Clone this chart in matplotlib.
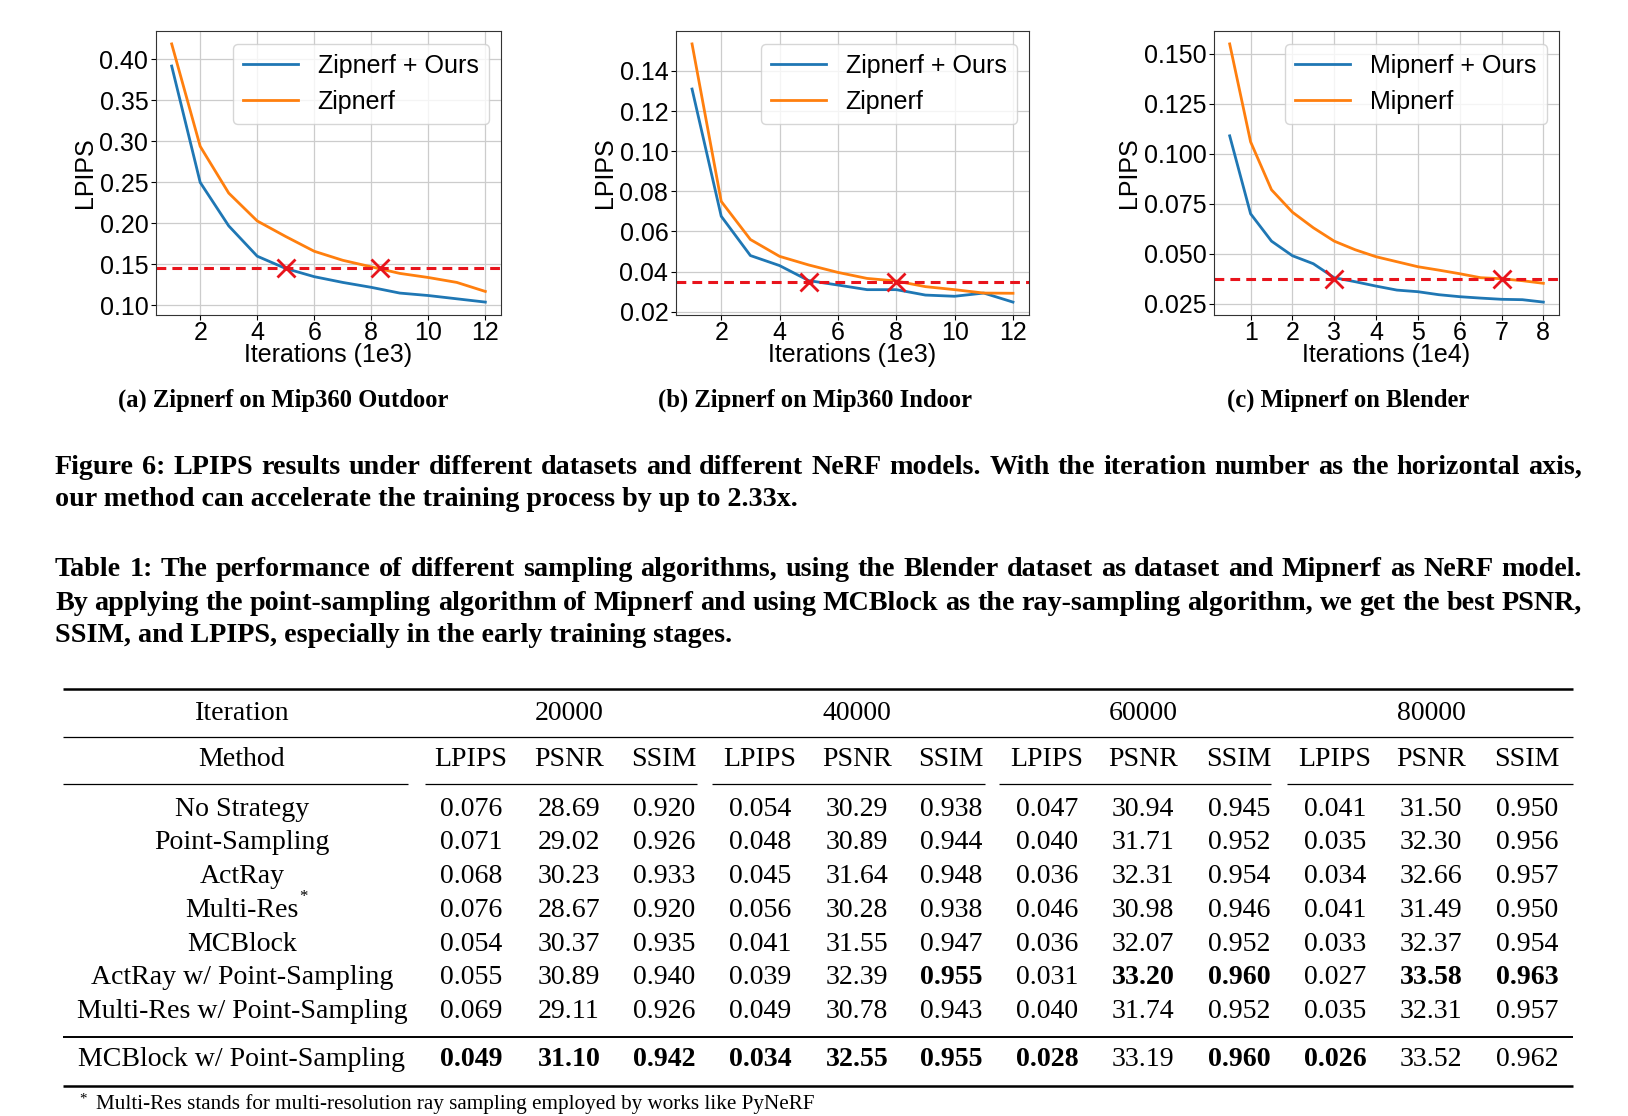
import numpy as np, matplotlib; matplotlib.use('Agg')
import matplotlib.pyplot as plt
from matplotlib.ticker import MultipleLocator

W,H=1628,1116

# ---- curve data ----
it_a=[1,2,3,4,5,6,7,8,9,10,11,12]
ours_a=[0.392,0.250,0.197,0.160,0.145,0.135,0.128,0.122,0.115,0.112,0.108,0.104]
base_a=[0.419,0.294,0.237,0.203,0.184,0.166,0.155,0.147,0.139,0.134,0.128,0.117]
thr_a=0.145; hit_a=[5,8.3]

it_b=[1,2,3,4,5,6,7,8,9,10,11,12]
ours_b=[0.131,0.0676,0.048,0.043,0.0355,0.0333,0.031,0.031,0.0283,0.0277,0.0293,0.0248]
base_b=[0.1535,0.075,0.056,0.0476,0.0433,0.0396,0.0366,0.0353,0.0325,0.031,0.0293,0.0292]
thr_b=0.035; hit_b=[5,8]

it_c=[0.5,1,1.5,2,2.5,3,3.5,4,4.5,5,5.5,6,6.5,7,7.5,8]
ours_c=[0.109,0.070,0.0563,0.049,0.045,0.038,0.036,0.0338,0.0318,0.031,0.0295,0.0285,0.0278,0.0272,0.027,0.0258]
base_c=[0.155,0.106,0.082,0.0708,0.063,0.0563,0.052,0.0485,0.046,0.0435,0.0418,0.040,0.038,0.0375,0.0365,0.0352]
thr_c=0.0375; hit_c=[3,7]

# ---- table data ----
iterations=[20000,40000,60000,80000]
metrics=['LPIPS','PSNR','SSIM']
methods=['No Strategy','Point-Sampling','ActRay','Multi-Res','MCBlock',
         'ActRay w/ Point-Sampling','Multi-Res w/ Point-Sampling','MCBlock w/ Point-Sampling']
lpips=[[0.076,0.054,0.047,0.041],[0.071,0.048,0.040,0.035],[0.068,0.045,0.036,0.034],
       [0.076,0.056,0.046,0.041],[0.054,0.041,0.036,0.033],[0.055,0.039,0.031,0.027],
       [0.069,0.049,0.040,0.035],[0.049,0.034,0.028,0.026]]
psnr=[[28.69,30.29,30.94,31.50],[29.02,30.89,31.71,32.30],[30.23,31.64,32.31,32.66],
      [28.67,30.28,30.98,31.49],[30.37,31.55,32.07,32.37],[30.89,32.39,33.20,33.58],
      [29.11,30.78,31.74,32.31],[31.10,32.55,33.19,33.52]]
ssim=[[0.920,0.938,0.945,0.950],[0.926,0.944,0.952,0.956],[0.933,0.948,0.954,0.957],
      [0.920,0.938,0.946,0.950],[0.935,0.947,0.952,0.954],[0.940,0.955,0.960,0.963],
      [0.926,0.943,0.952,0.957],[0.942,0.955,0.960,0.962]]
# (row, iteration index, metric index) printed in bold
bold={(5,1,2),(5,2,1),(5,2,2),(5,3,1),(5,3,2),
      (7,0,0),(7,0,1),(7,0,2),(7,1,0),(7,1,1),(7,1,2),(7,2,0),(7,2,2),(7,3,0)}

fig=plt.figure(figsize=(W/100,H/100),dpi=100)
SANS='Liberation Sans'; SERIF='Liberation Serif'
FS=18

def px_axes(l,r,t,b):
    return fig.add_axes([l/W,1-b/H,(r-l)/W,(b-t)/H])

panels=[((156,501),it_a,ours_a,base_a,thr_a,hit_a,'Zipnerf','1e3',2,0.05),
        ((676,1029),it_b,ours_b,base_b,thr_b,hit_b,'Zipnerf','1e3',2,0.02),
        ((1214,1559),it_c,ours_c,base_c,thr_c,hit_c,'Mipnerf','1e4',1,0.025)]
for (l,r),x,o,b,thr,hit,name,unit,xs,ys in panels:
    ax=px_axes(l,r,31,315)
    ax.plot(x,o,color='#1f77b4',lw=2,label=name+' + Ours')
    ax.plot(x,b,color='#ff7f0e',lw=2,label=name)
    ax.axhline(thr,color='#e8141c',ls='--',lw=2.2,dashes=(3.2,2))
    ax.plot(hit,[thr]*len(hit),'x',color='#e8141c',ms=13,mew=2,ls='none')
    ax.xaxis.set_major_locator(MultipleLocator(xs)); ax.yaxis.set_major_locator(MultipleLocator(ys))
    ax.grid(True,color='#cccccc',lw=0.9)
    ax.tick_params(labelsize=FS,pad=2)
    ax.tick_params(axis='x',pad=0.5)
    for lab in ax.get_xticklabels()+ax.get_yticklabels(): lab.set_family(SANS)
    ax.set_xlabel('Iterations (%s)'%unit,fontsize=FS,family=SANS,labelpad=-1)
    ax.set_ylabel('LPIPS',fontsize=FS,family=SANS,labelpad=2)
    for s in ax.spines.values(): s.set_color('#333333')
    ax.legend(loc='upper right',prop={'family':SANS,'size':FS},handlelength=2.2,framealpha=0.8)

# overlay for captions and table, in pixel units
ov=fig.add_axes([0,0,1,1]); ov.set_xlim(0,W); ov.set_ylim(H,0); ov.axis('off')
R=fig.canvas.get_renderer()

def width(s,size,weight='normal'):
    t=ov.text(0,0,s,fontsize=size,family=SERIF,weight=weight)
    w=t.get_window_extent(R).width; t.remove(); return w

def fit(s,target,weight='normal'):
    return 16*target/width(s,16,weight)

def line(s,y,x0,size,weight='normal',x1=None,ha='left'):
    if x1 is None:
        ov.text(x0,y,s,fontsize=size,family=SERIF,weight=weight,ha=ha,va='center'); return
    words=s.split(' '); ws=[width(w,size,weight) for w in words]
    gap=(x1-x0-sum(ws))/(len(words)-1); x=x0
    for w,wd in zip(words,ws):
        ov.text(x,y,w,fontsize=size,family=SERIF,weight=weight,ha='left',va='center'); x+=wd+gap

# sub-captions
subs=['(a) Zipnerf on Mip360 Outdoor','(b) Zipnerf on Mip360 Indoor','(c) Mipnerf on Blender']
sub_x=[283,815,1348]
ssz=fit(subs[0],332,'bold')
for s,xc in zip(subs,sub_x): line(s,400,xc,ssz,'bold',ha='center')

cap1=['Figure 6: LPIPS results under different datasets and different NeRF models. With the iteration number as the horizontal axis,',
      'our method can accelerate the training process by up to 2.33x.']
cap2=['Table 1: The performance of different sampling algorithms, using the Blender dataset as dataset and Mipnerf as NeRF model.',
      'By applying the point-sampling algorithm of Mipnerf and using MCBlock as the ray-sampling algorithm, we get the best PSNR,',
      'SSIM, and LPIPS, especially in the early training stages.']
csz=fit(cap1[0],1510,'bold')
line(cap1[0],467,55,csz,'bold',x1=1582); line(cap1[1],500,55,csz,'bold')
line(cap2[0],570,55,csz,'bold',x1=1582); line(cap2[1],603,55,csz,'bold',x1=1582); line(cap2[2],636,55,csz,'bold')

# table
tsz=fit('Multi-Res w/ Point-Sampling',330)
col_x=[471,569,664,760,857,951,1047,1143,1239,1335,1431,1527]
mx=242; L0,L1=63,1573
for y,lw in [(689,1.8),(737,0.9),(1037,1.4),(1086,1.8)]:
    ov.plot([L0,L1],[y,y],color='k',lw=lw,solid_capstyle='butt')
for a,b in [(63,408),(425,697),(712,985),(999,1271),(1287,1573)]:
    ov.plot([a,b],[784,784],color='k',lw=0.9,solid_capstyle='butt')
line('Iteration',713,mx,tsz,ha='center'); line('Method',760,mx,tsz,ha='center')
for g,itv in enumerate(iterations):
    line(str(itv),713,col_x[3*g+1],tsz,ha='center')
    for k,m in enumerate(metrics): line(m,760,col_x[3*g+k],tsz,ha='center')
row_y=[809+33.8*i for i in range(7)]+[1060]
for r,name in enumerate(methods):
    y=row_y[r]
    line(name,y,mx,tsz,ha='center')
    if name=='Multi-Res':
        ov.text(mx+width(name,tsz)/2+1,y-13,'*',fontsize=tsz*0.6,family=SERIF,va='center')
    for g in range(4):
        vals=['%.3f'%lpips[r][g],'%.2f'%psnr[r][g],'%.3f'%ssim[r][g]]
        for k,v in enumerate(vals):
            line(v,y,col_x[3*g+k],tsz,'bold' if (r,g,k) in bold else 'normal',ha='center')

fsz=fit('Multi-Res stands for multi-resolution ray sampling employed by works like PyNeRF',719)
ov.text(79,1099,'*',fontsize=fsz*0.7,family=SERIF,va='center')
line('Multi-Res stands for multi-resolution ray sampling employed by works like PyNeRF',1104,96,fsz)

fig.savefig('out.png',dpi=100)
